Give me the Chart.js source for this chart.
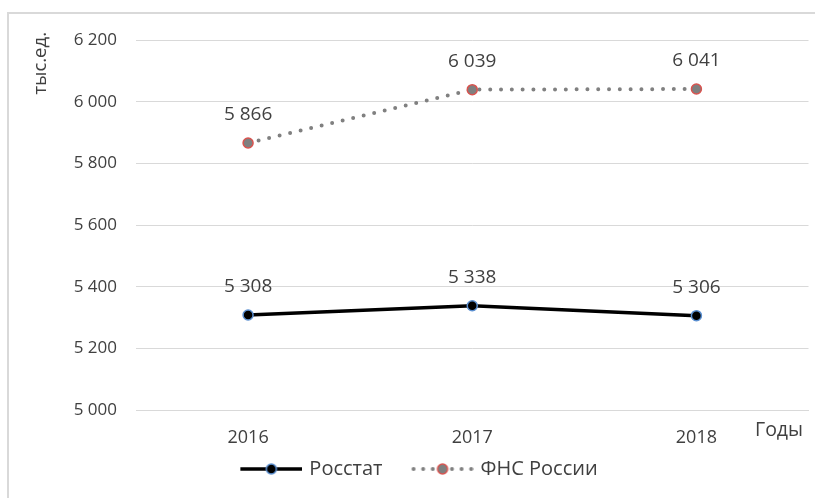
<!DOCTYPE html>
<html>
<head>
<meta charset="utf-8">
<script src="https://cdn.jsdelivr.net/npm/chart.js@4.4.1/dist/chart.umd.min.js"></script>
<style>
  html, body { margin: 0; padding: 0; background: #fff; }
  #wrap { position: relative; width: 815px; height: 498px; overflow: hidden; }
  #frame { position: absolute; left: 7px; top: 12px; width: 830px; height: 520px; border: 2px solid #d9d9d9; box-sizing: border-box; }
  canvas { position: absolute; left: 0; top: 0; }
</style>
</head>
<body>
<div id="wrap">
  <div id="frame"></div>
  <canvas id="lineChart" width="815" height="498"></canvas>
</div>
<script>
// chart values
const years = ['2016', '2017', '2018'];
const rosstat = [5308, 5338, 5306];
const fns = [5866, 6039, 6041];
const seriesNames = ['Росстат', 'ФНС России'];
const yMin = 5000;
const yMax = 6200;
const yStep = 200;

const FONT = '"Open Sans", "Noto Sans", sans-serif';
const TEXT = '#404040';

// "6 200" style numbers
function fmt(v) {
  return String(v).replace(/\B(?=(\d{3})+(?!\d))/g, ' ');
}

// legend symbol: line + marker, with some blank room on the left
function legendSymbol(lineColor, dotted, fill, stroke) {
  const c = document.createElement('canvas');
  c.width = 84; c.height = 14;
  const g = c.getContext('2d');
  const x0 = 22, x1 = 84, mid = 53;
  g.strokeStyle = lineColor;
  g.lineWidth = dotted ? 4 : 3.5;
  g.lineCap = dotted ? 'round' : 'butt';
  if (dotted) g.setLineDash([0, 9.6]);
  g.beginPath();
  g.moveTo(dotted ? x0 + 2 : x0, 7);
  g.lineTo(dotted ? x1 - 2 : x1, 7);
  g.stroke();
  g.setLineDash([]);
  g.beginPath();
  g.arc(mid, 7, 5, 0, Math.PI * 2);
  g.fillStyle = fill;
  g.fill();
  g.lineWidth = 1.5;
  g.strokeStyle = stroke;
  g.stroke();
  return c;
}

const extraText = {
  id: 'extraText',
  afterDatasetsDraw(chart) {
    const ctx = chart.ctx;
    ctx.save();
    ctx.fillStyle = TEXT;
    ctx.font = '19px ' + FONT;
    ctx.textAlign = 'center';
    ctx.textBaseline = 'middle';
    chart.data.datasets.forEach((ds, i) => {
      chart.getDatasetMeta(i).data.forEach((pt, j) => {
        ctx.fillText(fmt(ds.data[j]), pt.x, pt.y - 28);
      });
    });
    // x axis name
    ctx.textAlign = 'left';
    ctx.font = '19.5px ' + FONT;
    ctx.fillText('Годы', 755, 430);
    // y axis name
    ctx.font = '18.5px ' + FONT;
    ctx.translate(41, 32);
    ctx.rotate(-Math.PI / 2);
    ctx.textAlign = 'right';
    ctx.fillText('тыс.ед.', 0, 0);
    ctx.restore();
  }
};

new Chart(document.getElementById('lineChart'), {
  type: 'line',
  data: {
    labels: years,
    datasets: [
      {
        label: seriesNames[0],
        data: rosstat,
        borderColor: '#000000',
        borderWidth: 3.5,
        pointBackgroundColor: '#000000',
        pointBorderColor: '#5b8fd0',
        pointBorderWidth: 1.5,
        pointRadius: 5,
        tension: 0,
        legendImg: legendSymbol('#000000', false, '#000000', '#5b8fd0')
      },
      {
        label: seriesNames[1],
        data: fns,
        borderColor: '#808080',
        borderWidth: 4,
        borderDash: [0, 10.8],
        borderCapStyle: 'round',
        pointBackgroundColor: '#7f7f7f',
        pointBorderColor: '#d9534f',
        pointBorderWidth: 1.5,
        pointRadius: 5,
        tension: 0,
        legendImg: legendSymbol('#808080', true, '#7f7f7f', '#d9534f')
      }
    ]
  },
  options: {
    responsive: false,
    animation: false,
    layout: { padding: { top: 40, right: 6, bottom: 9, left: 10 } },
    plugins: {
      tooltip: { enabled: false },
      legend: {
        position: 'bottom',
        labels: {
          usePointStyle: true,
          pointStyleWidth: 78,
          boxHeight: 14,
          padding: 10,
          color: TEXT,
          font: { family: FONT, size: 20 },
          generateLabels(chart) {
            return chart.data.datasets.map((ds, i) => ({
              text: ds.label,
              pointStyle: ds.legendImg,
              fontColor: TEXT,
              lineWidth: 0,
              strokeStyle: 'transparent',
              fillStyle: 'transparent',
              datasetIndex: i
            }));
          }
        }
      }
    },
    scales: {
      x: {
        offset: true,
        grid: { display: false },
        border: { color: '#d9d9d9' },
        ticks: { color: TEXT, font: { family: FONT, size: 18 }, padding: 9 },
        afterFit(s) { s.height = 39; }
      },
      y: {
        min: yMin,
        max: yMax,
        grid: { color: '#d9d9d9', drawTicks: false },
        border: { display: false },
        ticks: {
          stepSize: yStep,
          padding: 19,
          color: TEXT,
          font: { family: FONT, size: 17 },
          callback: v => fmt(v)
        },
        afterFit(s) { s.width = 126; }
      }
    }
  },
  plugins: [extraText]
});
</script>
</body>
</html>
